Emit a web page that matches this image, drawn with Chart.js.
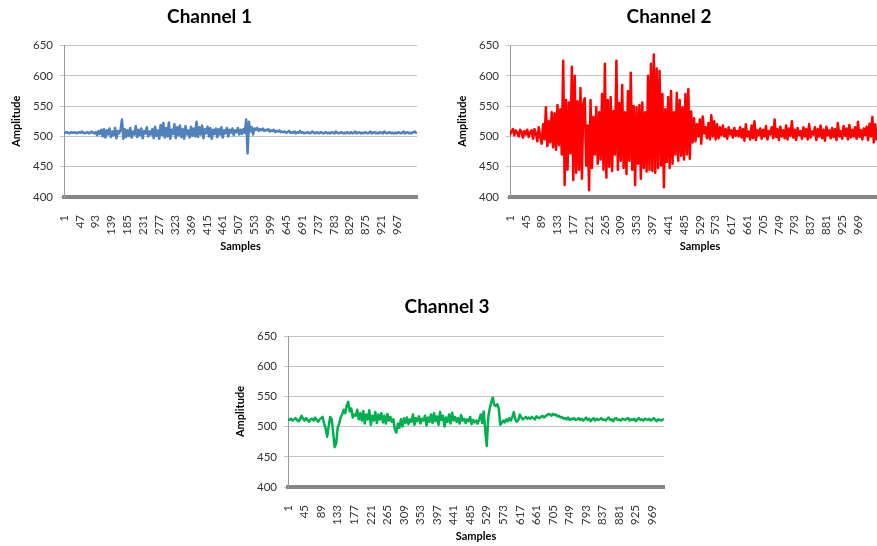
<!DOCTYPE html>
<html>
<head>
<meta charset="utf-8">
<script src="https://cdn.jsdelivr.net/npm/chart.js@4.4.1/dist/chart.umd.min.js"></script>
<style>
  html, body { margin: 0; padding: 0; background: #fff; overflow: hidden; width: 877px; height: 546px; }
  canvas { position: absolute; }
</style>
</head>
<body>
<canvas id="ch1" width="440" height="260" style="left:0px;top:0px"></canvas>
<canvas id="ch2" width="460" height="260" style="left:446px;top:0px"></canvas>
<canvas id="ch3" width="456" height="256" style="left:228px;top:290px"></canvas>
<script>
// one value every STEP samples, starting at sample 1
const STEP = 4;

const ch1Ticks = [1, 47, 93, 139, 185, 231, 277, 323, 369, 415, 461, 507, 553, 599, 645, 691, 737, 783, 829, 875, 921, 967];
const ch2Ticks = [1, 45, 89, 133, 177, 221, 265, 309, 353, 397, 441, 485, 529, 573, 617, 661, 705, 749, 793, 837, 881, 925, 969];
const ch3Ticks = [1, 45, 89, 133, 177, 221, 265, 309, 353, 397, 441, 485, 529, 573, 617, 661, 705, 749, 793, 837, 881, 925, 969];

const ch1Values = [
  505,506,507,506,505,507,506,506,507,505,506,507,506,508,506,505,
  506,507,505,506,508,506,505,507,502,509,504,511,500,512,498,510,
  503,513,499,508,502,514,497,509,505,511,528,496,512,499,510,501,
  514,498,508,503,517,499,511,502,513,497,509,505,515,500,508,503,
  512,497,516,501,510,496,519,502,522,498,514,500,523,496,511,504,
  520,497,515,502,518,499,512,496,517,503,510,498,516,501,513,500,
  524,499,515,503,518,497,512,505,516,500,514,496,511,504,513,499,
  512,503,515,498,510,505,514,500,511,506,513,502,510,507,514,503,
  511,504,512,506,528,472,524,508,515,503,513,511,514,509,512,510,
  513,509,511,510,512,508,510,509,511,507,509,508,510,507,508,507,
  508,506,507,509,506,507,506,508,505,507,506,509,506,507,505,506,
  506,507,505,506,508,506,505,507,506,505,507,506,505,506,507,505,
  506,505,507,506,505,508,506,505,506,507,505,506,505,507,506,505,
  507,505,506,508,505,506,507,505,506,505,507,506,505,506,508,505,
  506,507,505,506,505,507,506,505,508,506,505,506,507,505,506,505,
  506,505,507,506,505,506,508,505,506,507,505,506,505,507,508,506
];

const ch2Values = [
  503,508,512,502,510,506,500,511,507,498,509,503,511,499,507,510,
  496,512,505,492,515,500,488,520,495,548,484,525,490,540,482,538,
  478,552,486,545,470,625,420,560,445,556,472,615,428,600,440,558,
  445,580,430,555,563,452,518,411,560,448,532,470,548,455,540,462,
  570,445,620,432,560,450,565,443,542,470,625,445,555,460,585,448,
  540,438,575,460,605,445,550,420,548,455,552,430,556,448,540,442,
  600,445,620,443,635,440,612,448,608,452,570,416,545,458,565,448,
  575,455,540,470,572,460,560,468,548,462,570,470,578,463,541,490,
  530,492,520,500,528,488,533,505,515,497,522,495,535,500,525,495,
  520,497,515,502,518,500,512,496,515,503,510,498,514,501,509,500,
  515,498,512,493,520,500,508,495,518,497,525,494,510,502,513,496,
  511,500,517,495,509,503,515,497,528,499,512,494,516,500,510,497,
  518,495,513,501,525,498,511,494,514,502,509,496,515,500,512,495,
  520,498,508,503,515,494,512,500,518,497,511,493,516,502,510,497,
  514,499,512,494,522,500,509,496,517,501,513,495,519,498,511,500,
  515,496,524,499,510,495,513,502,516,494,521,500,532,490,520,495
];

const ch3Values = [
  512,511,513,510,512,514,511,509,512,518,513,510,514,511,508,512,
  513,510,515,511,508,512,514,516,505,497,483,500,516,512,490,466,
  472,498,505,515,520,528,522,535,541,525,530,515,520,518,528,512,
  522,510,526,505,520,512,527,503,518,510,524,506,520,512,522,507,
  518,505,521,510,516,508,512,495,490,505,498,512,500,514,506,515,
  504,512,508,520,503,514,509,517,505,513,510,518,502,515,508,520,
  506,522,509,517,503,524,511,518,500,515,508,520,505,523,510,516,
  508,514,505,519,510,513,506,512,509,516,504,511,507,510,505,512,
  520,506,525,495,468,515,530,540,548,536,534,537,530,503,506,510,
  507,512,509,514,510,516,524,512,508,511,520,515,512,514,516,513,
  515,513,516,514,512,517,515,514,516,518,515,517,519,521,520,518,
  521,519,520,517,518,515,516,513,514,512,515,511,513,512,514,511,
  512,514,511,513,510,512,515,511,513,509,512,514,510,513,511,512,
  514,511,512,510,513,515,511,512,509,513,514,511,512,510,513,512,
  511,513,514,510,512,511,513,509,512,514,511,512,510,513,512,511,
  513,510,512,514,511,509,512,511,510,512
];

const FONT = "Lato, 'Open Sans', sans-serif";

function makeChart(id, title, values, ticks, color, lay) {
  const points = values.map((v, i) => ({ x: 1 + i * STEP, y: v }));
  return new Chart(document.getElementById(id), {
    type: 'line',
    data: {
      datasets: [{
        data: points,
        borderColor: color,
        borderWidth: 2.5,
        // round joins, otherwise the dense zigzag grows miter spikes
        borderJoinStyle: 'round',
        borderCapStyle: 'round',
        pointRadius: 0,
        tension: 0,
        fill: false,
      }],
    },
    options: {
      responsive: false,
      animation: false,
      layout: { padding: { left: 2, right: lay.right, top: 0, bottom: 0 } },
      plugins: {
        legend: { display: false },
        tooltip: { enabled: false },
        title: {
          display: true,
          text: title,
          color: '#000',
          font: { family: FONT, size: 19, weight: 'bold' },
          padding: { top: 5, bottom: lay.titleGap },
        },
      },
      scales: {
        x: {
          type: 'linear',
          min: 1,
          max: lay.xMax,
          afterBuildTicks: (scale) => {
            scale.ticks = ticks.map((v) => ({ value: v }));
          },
          afterFit: (scale) => { scale.height = lay.xHeight; },
          grid: { display: false },
          border: { display: true, color: '#868686', width: 4 },
          ticks: {
            autoSkip: false,
            minRotation: 90,
            maxRotation: 90,
            padding: 10,
            color: '#333',
            font: { family: FONT, size: 11.5 },
            callback: (v) => String(v),
          },
          title: {
            display: true,
            text: 'Samples',
            color: '#000',
            font: { family: FONT, size: 11, weight: 'bold' },
            padding: { top: 0, bottom: lay.xTitlePad },
          },
        },
        y: {
          min: 400,
          max: 650,
          afterFit: (scale) => { scale.width = lay.yWidth; },
          grid: { color: '#c4c4c4', tickLength: 4, drawTicks: true },
          border: { color: '#9a9a9a', width: 1 },
          ticks: {
            stepSize: 50,
            padding: 7,
            color: '#333',
            font: { family: FONT, size: 11.5 },
          },
          title: {
            display: true,
            text: 'Amplitude',
            color: '#000',
            font: { family: FONT, size: 11, weight: 'bold' },
            padding: { top: lay.yTitlePad, bottom: 0 },
          },
        },
      },
    },
  });
}

makeChart('ch1', 'Channel 1', ch1Values, ch1Ticks, '#4f81bd',
  { right: 23, xMax: 1024, xHeight: 63, yWidth: 62, titleGap: 17.7, xTitlePad: 7.4, yTitlePad: 7.5 });
makeChart('ch2', 'Channel 2', ch2Values, ch2Ticks, '#ff0000',
  { right: 16, xMax: 1058, xHeight: 63, yWidth: 62, titleGap: 17.7, xTitlePad: 7.4, yTitlePad: 8 });
makeChart('ch3', 'Channel 3', ch3Values, ch3Ticks, '#00b050',
  { right: 20, xMax: 1000, xHeight: 59, yWidth: 58, titleGap: 18.2, xTitlePad: 3.4, yTitlePad: 3.7 });
</script>
</body>
</html>
